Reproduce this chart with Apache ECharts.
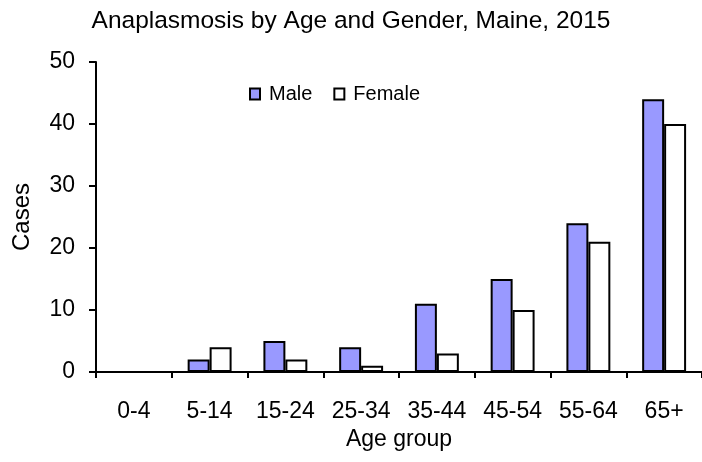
<!DOCTYPE html>
<html>
<head>
<meta charset="utf-8">
<script src="https://cdn.jsdelivr.net/npm/echarts@6/dist/echarts.min.js"></script>
<style>
    html, body { margin: 0; padding: 0; background: #fff; }
    #chart { width: 702px; height: 462px; }
</style>
</head>
<body>
<div id="chart"></div>
<script>
    var ageGroups = ['0-4', '5-14', '15-24', '25-34', '35-44', '45-54', '55-64', '65+'];
    var maleCases = [0, 2, 5, 4, 11, 15, 24, 44];
    var femaleCases = [0, 4, 2, 1, 3, 10, 21, 40];

    var myChart = echarts.init(document.getElementById('chart'));
    var font = 'Liberation Sans, Arial, sans-serif';

    var option = {
        animation: false,
        backgroundColor: '#fff',
        title: {
            text: 'Anaplasmosis by Age and Gender, Maine, 2015',
            left: 'center',
            top: 4,
            textStyle: { fontFamily: font, fontSize: 24.5, fontWeight: 'normal', color: '#000' }
        },
        legend: {
            data: ['Male', 'Female'],
            icon: 'rect',
            left: 244,
            top: 79,
            itemWidth: 10,
            itemHeight: 11,
            itemGap: 21,
            textStyle: { fontFamily: font, fontSize: 20, color: '#000', padding: [0, 0, 0, 4] }
        },
        grid: { left: 96, right: -2, top: 62, bottom: 90 },
        xAxis: {
            type: 'category',
            data: ageGroups,
            name: 'Age group',
            nameLocation: 'middle',
            nameGap: 53,
            nameTextStyle: { fontFamily: font, fontSize: 23, color: '#000' },
            axisLine: { lineStyle: { color: '#000', width: 2 } },
            axisTick: { show: true, interval: 0, length: 6, lineStyle: { color: '#000', width: 2 } },
            axisLabel: { interval: 0, fontFamily: font, fontSize: 23, color: '#000', margin: 28 }
        },
        yAxis: {
            type: 'value',
            min: 0,
            max: 50,
            interval: 10,
            name: 'Cases',
            nameLocation: 'middle',
            nameGap: 62,
            nameTextStyle: { fontFamily: font, fontSize: 24, color: '#000' },
            splitLine: { show: false },
            axisLine: { show: true, lineStyle: { color: '#000', width: 2 } },
            axisTick: { show: true, length: 7, lineStyle: { color: '#000', width: 2 } },
            axisLabel: { fontFamily: font, fontSize: 23, color: '#000', margin: 21 }
        },
        series: [
            {
                name: 'Male',
                type: 'bar',
                data: maleCases,
                barGap: '0%',
                barCategoryGap: '42%',
                itemStyle: { color: '#9999ff', borderColor: '#000', borderWidth: 2 }
            },
            {
                name: 'Female',
                type: 'bar',
                data: femaleCases,
                itemStyle: { color: '#fff', borderColor: '#000', borderWidth: 2 }
            }
        ]
    };
    myChart.setOption(option);
</script>
</body>
</html>
